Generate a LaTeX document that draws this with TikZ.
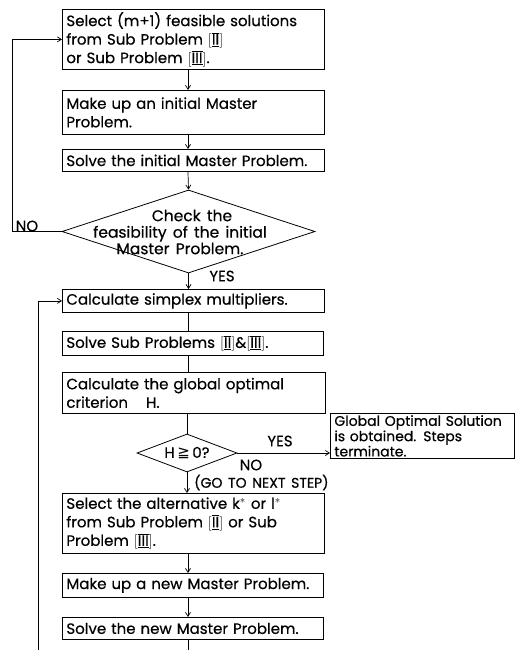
\documentclass[tikz,border=0pt]{standalone}
\usepackage{fontspec}
\setmainfont{Poppins}[FakeBold=0.5, WordSpace=1.5]
\newfontfamily\symf{DejaVu Sans}
\usetikzlibrary{shapes.geometric,arrows.meta}
\newcommand{\rn}[1]{$[\overline{\underline{\mathrm{#1}}}]$}
\begin{document}
\begin{tikzpicture}[x=1pt,y=-1pt,
  box/.style={draw, line width=0.8pt, rectangle, anchor=north west, align=left,
    inner xsep=4pt, inner ysep=0pt, font=\fontsize{15}{18.5}\selectfont},
  dia/.style={draw, line width=0.8pt, diamond, inner sep=0pt},
  arr/.style={line width=0.7pt, -{Straight Barb[length=4pt,width=5pt]}},
  ln/.style={line width=0.7pt},
  lbl/.style={font=\fontsize{15}{16.5}\selectfont, inner sep=0pt}]
\useasboundingbox (0,0) rectangle (516,656);
\coordinate (axis) at (188,0);
% boxes
\node[box, text width=254pt, minimum height=60pt] (b1) at (62,9)
  {Select (m+1) feasible solutions\\from Sub Problem \rn{II}\\or Sub Problem \rn{III}.};
\node[box, text width=254pt, minimum height=44pt] (b2) at (62,90)
  {Make up an initial Master\\Problem.};
\node[box, text width=254pt, minimum height=22pt] (b3) at (62,149)
  {Solve the initial Master Problem.};
\node[dia, minimum width=253pt, minimum height=83pt] (d1) at (188.5,231.5) {};
\node[lbl, align=center, font=\fontsize{15.5}{16.5}\selectfont] (d1t) at (180,232)
  {\hspace*{24pt}Check the\\feasibility of the initial\\Master Problem.};
\node[box, text width=254pt, minimum height=23pt] (b4) at (62,289)
  {Calculate simplex multipliers.};
\node[box, text width=253pt, minimum height=24pt] (b5) at (62,331)
  {Solve Sub Problems \rn{II}\&\rn{III}.};
\node[box, text width=255pt, minimum height=41pt] (b6) at (62,372)
  {Calculate the global optimal\\criterion\hspace{18pt}H.};
\node[dia, minimum width=100pt, minimum height=38pt] (d2) at (187,453) {};
\node[lbl] (d2t) at (d2) {H\,{\symf ≧}\,0?};
\node[box, text width=176pt, minimum height=45pt, font=\fontsize{14}{14.2}\selectfont] (res) at (330,413)
  {Global Optimal Solution\\is obtained. Steps\\terminate.};
\node[box, text width=254pt, minimum height=60pt] (b7) at (62,493)
  {Select the alternative k$^{*}$ or l$^{*}$\\from Sub Problem \rn{II} or Sub\\Problem \rn{III}.};
\node[box, text width=253pt, minimum height=24pt] (b8) at (62,573)
  {Make up a new Master Problem.};
\node[box, text width=253pt, minimum height=22pt] (b9) at (62,617)
  {Solve the new Master Problem.};
% labels
\node[lbl] (no1) at (27,226) {NO};
\node[lbl] (yes1) at (222,276) {YES};
\node[lbl] (yes2) at (280,441) {YES};
\node[lbl] (no2) at (251,465) {NO};
\node[lbl, anchor=west, font=\fontsize{14}{15}\selectfont] (go) at (194,482.5) {(GO TO NEXT STEP)};
% connectors
\draw[arr] (b1.south -| axis) -- (b2.north -| axis);
\draw[arr] (b2.south -| axis) -- (b3.north -| axis);
\draw[arr] (b3.south -| axis) -- (d1.north);
\coordinate (lno) at (12,0);
\draw[arr] (d1.west) -- (d1.west -| lno) |- (b1.west);
\draw[arr] (d1.south) -- (b4.north -| d1.south);
\draw[ln] (b4.south -| axis) -- (b5.north -| axis);
\draw[ln] (b5.south -| axis) -- (b6.north -| axis);
\draw[ln] (b6.south -| d2.north) -- (d2.north);
\draw[arr] (d2.east) -- (d2.east -| res.west);
\draw[arr] (d2.south) -- (b7.north -| d2.south);
\draw[arr] (b7.south -| axis) -- (b8.north -| axis);
\draw[arr] (b8.south -| axis) -- (b9.north -| axis);
\coordinate (cb) at (188,650);
\draw[ln] (b9.south -| axis) -- (cb);
\coordinate (lb) at (38,650);
\draw[arr] (lb) |- (b4.west);
\end{tikzpicture}
\end{document}
